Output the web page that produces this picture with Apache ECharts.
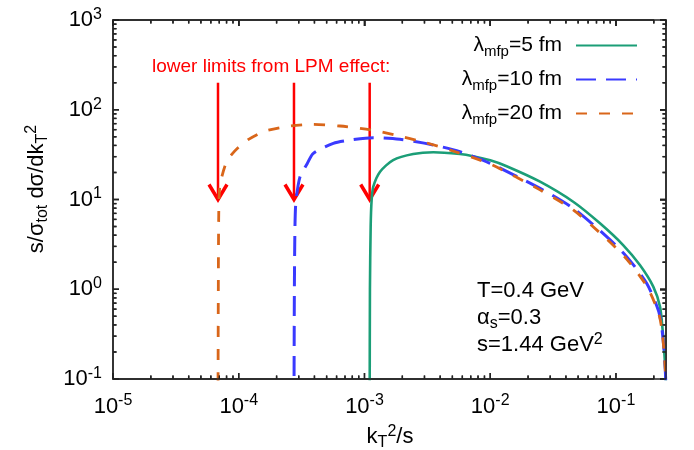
<!DOCTYPE html>
<html>
<head>
<meta charset="utf-8">
<script src="https://cdn.jsdelivr.net/npm/echarts@6/dist/echarts.min.js"></script>
<style>
  html, body { margin: 0; padding: 0; background: #fff; }
  #chart { width: 694px; height: 450px; }
</style>
</head>
<body>
<div id="chart"></div>
<script>
// Differential spectrum s/sigma_tot dsigma/dkT^2 versus kT^2/s
// for three mean free paths (T = 0.4 GeV, alpha_s = 0.3, s = 1.44 GeV^2).

const xLam5 = [1.10e-3, 1.105e-3, 1.12e-3, 1.14e-3, 1.175e-3, 1.33e-3, 1.69e-3, 2.44e-3, 3.53e-3, 5.74e-3, 7.3e-3, 1.0e-2, 1.35e-2, 2.49e-2, 4.57e-2, 7.46e-2, 0.114, 0.155, 0.198, 0.224, 0.235, 0.243, 0.2485, 0.2499];
const yLam5 = [0.05, 1.0, 5.0, 9.9, 13.9, 20.4, 27.5, 32.1, 33.6, 32.1, 30.4, 27.3, 23.5, 15.8, 9.44, 5.43, 3.11, 1.86, 1.07, 0.64, 0.352, 0.185, 0.1, 0.05];

const xLam10 = [2.75e-4, 2.77e-4, 2.80e-4, 2.85e-4, 3.07e-4, 3.5e-4, 3.92e-4, 5.65e-4, 7.67e-4, 1.175e-3, 1.91e-3, 3.53e-3, 5.74e-3, 9.96e-3, 2.49e-2, 4.57e-2, 8.43e-2, 0.1216, 0.1754, 0.2169, 0.2309, 0.243, 0.2485, 0.2499];
const yLam10 = [0.05, 1.0, 5.0, 9.5, 17.9, 25.0, 32.7, 42.3, 46.0, 48.9, 46.9, 40.5, 34.1, 25.3, 13.3, 7.98, 3.86, 2.31, 1.165, 0.587, 0.383, 0.185, 0.1, 0.05];

const xLam20 = [6.84e-5, 6.88e-5, 6.94e-5, 7.10e-5, 8.14e-5, 1.10e-4, 1.59e-4, 2.56e-4, 3.83e-4, 6.38e-4, 1.148e-3, 1.748e-3, 3.03e-3, 5.06e-3, 9.96e-3, 2.49e-2, 4.57e-2, 8.43e-2, 0.1216, 0.1754, 0.2169, 0.2309, 0.243, 0.2485, 0.2499];
const yLam20 = [0.05, 1.0, 7.6, 14.5, 27.5, 43.2, 57.3, 65.9, 68.6, 65.9, 59.4, 52.4, 43.2, 34.7, 24.9, 12.8, 7.64, 3.63, 2.17, 1.087, 0.558, 0.37, 0.18, 0.1, 0.05];

// LPM lower limits marked by the arrows (kT^2/s), arrow tail and tip heights
const lpmLimits = [6.84e-5, 2.75e-4, 1.10e-3];
const arrowTail = 200;
const arrowTip = 10;

const seriesNames = ['5 fm', '10 fm', '20 fm'];

// axis ranges
const X_MIN = 1e-5, X_MAX = 0.25;
const Y_MIN = 0.1, Y_MAX = 1000;

const FONT = '"Liberation Sans", Arial, Helvetica, sans-serif';
const FRAME_COLOR = '#222';
const TICK_STROKE = '#222';
const MAJOR_LEN = 6, MINOR_LEN = 3.5;

function zip(xs, ys) { return xs.map((x, i) => [x, ys[i]]); }

// tick values: decades (major) and 2..9 times each decade (minor)
function logTicks(lo, hi) {
  const out = [];
  for (let d = Math.floor(Math.log10(lo)) - 1; d <= Math.ceil(Math.log10(hi)); d++) {
    for (let k = 1; k <= 9; k++) {
      const v = k * Math.pow(10, d);
      if (v >= lo * 0.999 && v <= hi * 1.001) out.push({ v: v, major: k === 1 });
    }
  }
  return out;
}

function makeRich() {
  return {
    b: { fontSize: 22, fontFamily: FONT, color: '#000', lineHeight: 27 },
    e: { fontSize: 16, fontFamily: FONT, color: '#000', lineHeight: 12, verticalAlign: 'top' },
    s: { fontSize: 16, fontFamily: FONT, color: '#000', lineHeight: 12, verticalAlign: 'bottom' }
  };
}

function powLabel(v) {
  const p = Math.log10(v);
  const r = Math.round(p);
  if (Math.abs(p - r) > 0.01) return '';
  return '{b|10}{e|' + r + '}';
}

const chart = echarts.init(document.getElementById('chart'));

const curveStyles = [
  { color: '#1b9e77', width: 2.6, type: 'solid' },
  { color: '#3a3aff', width: 3, type: [20, 10] },
  { color: '#d9661a', width: 2.8, type: [11, 12] }
];
const curveData = [zip(xLam5, yLam5), zip(xLam10, yLam10), zip(xLam20, yLam20)];

const lineSeries = curveData.map((d, i) => ({
  name: seriesNames[i],
  type: 'line',
  data: d,
  symbol: 'none',
  smooth: 0.25,
  z: 5,
  color: curveStyles[i].color,
  lineStyle: { color: curveStyles[i].color, width: curveStyles[i].width, type: curveStyles[i].type, cap: 'butt' }
}));

// mirrored axes on top/right carry inward major ticks
function logAxis(extra, tickShow) {
  return Object.assign({
    type: 'log',
    axisLine: { show: true, lineStyle: { color: FRAME_COLOR, width: 1.5 } },
    axisTick: tickShow
      ? { show: true, inside: true, length: MAJOR_LEN, lineStyle: { color: TICK_STROKE, width: 1.5 } }
      : { show: false },
    splitLine: { show: false }
  }, extra);
}

// free text: LPM note, parameter block, axis titles
function makeTexts() {
  return [
    {
      type: 'text', left: 152, top: 57, z: 20,
      style: { text: 'lower limits from LPM effect:', fill: '#ff0000', fontSize: 19, fontFamily: FONT }
    },
    {
      type: 'text', left: 477, top: 280, z: 20,
      style: {
        text: '{b|T=0.4 GeV}\n{b|α}{s|s}{b|=0.3}\n{b|s=1.44 GeV}{e|2}',
        rich: makeRich()
      }
    },
    {
      type: 'text', x: 390, y: 437, z: 20,
      style: { text: '{b|k}{s|T}{e|2}{b|/s}', rich: makeRich(), align: 'center', verticalAlign: 'middle' }
    },
    {
      type: 'text', x: 37, y: 189, rotation: Math.PI / 2, z: 20,
      style: { text: '{b|s/σ}{s|tot}{b| dσ/dk}{s|T}{e|2}', rich: makeRich(), align: 'center', verticalAlign: 'middle' }
    }
  ];
}

// ticks along the bottom/top edges, drawn through the grid's coordinate system
const xTickSeries = {
  type: 'custom',
  z: 2,
  silent: true,
  data: logTicks(X_MIN, X_MAX).map(t => [t.v, Y_MIN, Y_MAX, t.major ? 1 : 0]),
  renderItem: function (params, api) {
    const a = api.coord([api.value(0), api.value(1)]);
    const b = api.coord([api.value(0), api.value(2)]);
    const len = api.value(3) ? MAJOR_LEN : MINOR_LEN;
    return {
      type: 'group',
      children: [
        { type: 'line', shape: { x1: a[0], y1: a[1], x2: a[0], y2: a[1] - len }, style: { stroke: TICK_STROKE, lineWidth: 1.5 } },
        { type: 'line', shape: { x1: b[0], y1: b[1], x2: b[0], y2: b[1] + len }, style: { stroke: TICK_STROKE, lineWidth: 1.5 } }
      ]
    };
  }
};

// ticks along the left/right edges
const yTickSeries = {
  type: 'custom',
  z: 2,
  silent: true,
  data: logTicks(Y_MIN, Y_MAX).map(t => [X_MIN, t.v, X_MAX, t.major ? 1 : 0]),
  renderItem: function (params, api) {
    const a = api.coord([api.value(0), api.value(1)]);
    const b = api.coord([api.value(2), api.value(1)]);
    const len = api.value(3) ? MAJOR_LEN : MINOR_LEN;
    return {
      type: 'group',
      children: [
        { type: 'line', shape: { x1: a[0], y1: a[1], x2: a[0] + len, y2: a[1] }, style: { stroke: TICK_STROKE, lineWidth: 1.5 } },
        { type: 'line', shape: { x1: b[0], y1: b[1], x2: b[0] - len, y2: b[1] }, style: { stroke: TICK_STROKE, lineWidth: 1.5 } }
      ]
    };
  }
};

const option = {
  animation: false,
  backgroundColor: '#fff',
  grid: { left: 113, top: 20, right: 28, bottom: 71 },
  xAxis: [
    logAxis({ min: X_MIN, max: X_MAX,
      axisLabel: { formatter: powLabel, rich: makeRich(), margin: 14, showMaxLabel: false } }, false),
    logAxis({ min: X_MIN, max: X_MAX, position: 'top', axisLabel: { show: false } }, true)
  ],
  yAxis: [
    logAxis({ min: Y_MIN, max: Y_MAX,
      axisLabel: { formatter: powLabel, rich: makeRich(), margin: 11 } }, false),
    logAxis({ min: Y_MIN, max: Y_MAX, position: 'right', axisLabel: { show: false } }, true)
  ],
  legend: {
    orient: 'vertical',
    right: 51,
    top: 30,
    align: 'right',
    itemWidth: 61,
    itemHeight: 14,
    itemGap: 10,
    data: seriesNames,
    itemStyle: { color: 'rgba(0,0,0,0)', borderWidth: 0, opacity: 0 },
    formatter: name => '{g|λ}{s|mfp}{p|=' + name + '}',
    textStyle: {
      rich: {
        g: { fontSize: 21, fontFamily: FONT, color: '#000', lineHeight: 27 },
        s: { fontSize: 15, fontFamily: FONT, color: '#000', lineHeight: 12, verticalAlign: 'bottom' },
        p: { fontSize: 21, fontFamily: FONT, color: '#000', lineHeight: 27, padding: [0, 9, 0, 0] }
      }
    }
  },
  series: [
    {
      // LPM arrows
      type: 'custom',
      z: 2,
      silent: true,
      data: lpmLimits.map(x => [x, arrowTail, arrowTip]),
      renderItem: function (params, api) {
        const a = api.coord([api.value(0), api.value(1)]);
        const b = api.coord([api.value(0), api.value(2)]);
        return {
          type: 'group',
          children: [
            { type: 'line', shape: { x1: a[0], y1: a[1], x2: b[0], y2: b[1] - 2 },
              style: { stroke: '#ff0000', lineWidth: 2.5 } },
            { type: 'polyline', shape: { points: [[b[0] - 9, b[1] - 15], [b[0], b[1]], [b[0] + 9, b[1] - 15]] },
              style: { stroke: '#ff0000', lineWidth: 3.5, fill: null, lineJoin: 'miter' } }
          ]
        };
      }
    },
    xTickSeries,
    yTickSeries
  ].concat(lineSeries)
};

chart.setOption(option);

// the same ticks as one zig-zag polyline per edge, positioned by the axes' scales
const px = v => chart.convertToPixel({ xAxisIndex: 0 }, v);
const py = v => chart.convertToPixel({ yAxisIndex: 0 }, v);
const xLeft = px(X_MIN), xRight = px(X_MAX), yBottom = py(Y_MIN), yTop = py(Y_MAX);
const edges = { bottom: [], top: [], left: [], right: [] };
logTicks(X_MIN, X_MAX).forEach(t => {
  const x = px(t.v);
  if (!isFinite(x)) return;
  const len = t.major ? MAJOR_LEN : MINOR_LEN;
  edges.bottom.push([x, yBottom], [x, yBottom - len], [x, yBottom]);
  edges.top.push([x, yTop], [x, yTop + len], [x, yTop]);
});
logTicks(Y_MIN, Y_MAX).forEach(t => {
  const y = py(t.v);
  if (!isFinite(y)) return;
  const len = t.major ? MAJOR_LEN : MINOR_LEN;
  edges.left.push([xLeft, y], [xLeft + len, y], [xLeft, y]);
  edges.right.push([xRight, y], [xRight - len, y], [xRight, y]);
});
const tickEls = Object.keys(edges)
  .filter(k => edges[k].length > 1)
  .map(k => ({
    type: 'polyline', z: 15,
    shape: { points: edges[k] },
    style: { stroke: TICK_STROKE, lineWidth: 1.3, fill: null, lineJoin: 'bevel' }
  }));
chart.setOption({ graphic: makeTexts().concat(tickEls) });
</script>
</body>
</html>
